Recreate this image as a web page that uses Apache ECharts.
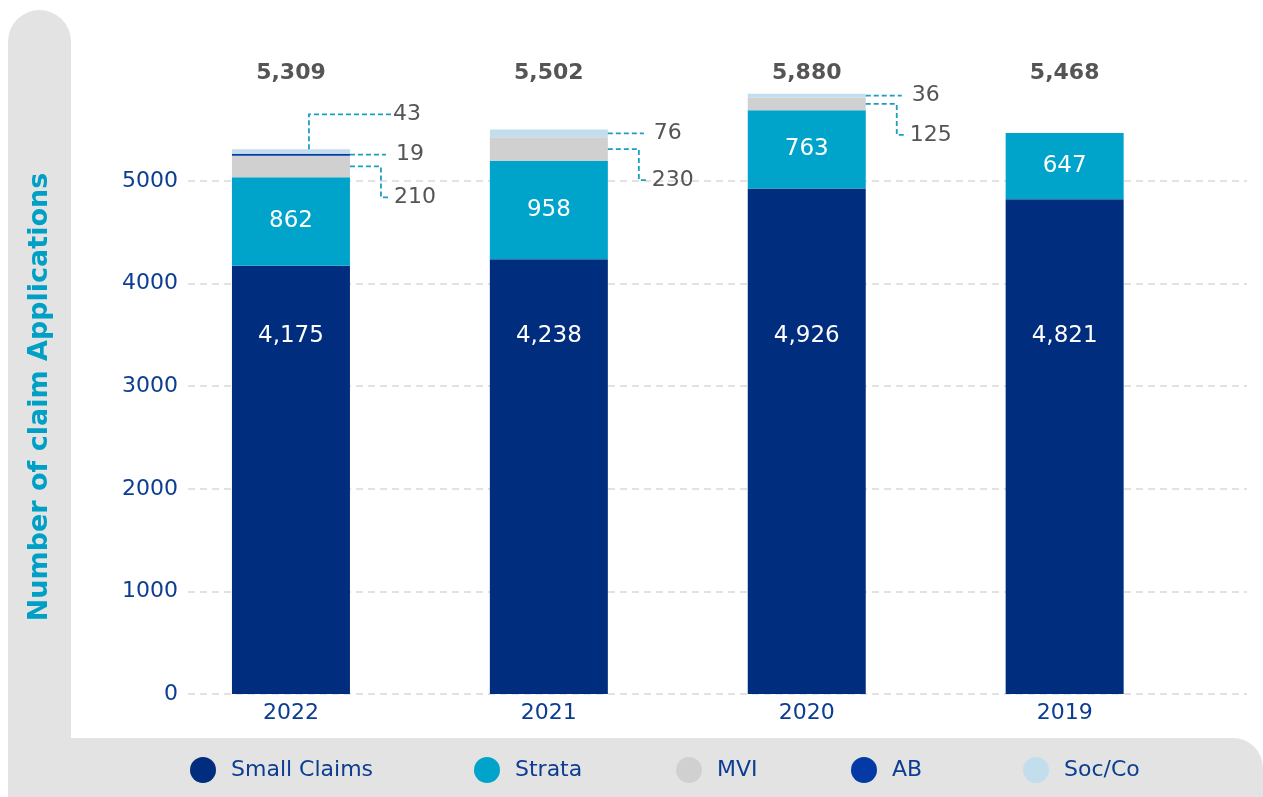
<!DOCTYPE html>
<html>
<head>
<meta charset="utf-8">
<script src="https://cdn.jsdelivr.net/npm/echarts@6.0.0/dist/echarts.min.js"></script>
<style>
html,body{margin:0;padding:0;background:#fff;}
#chart{width:1263px;height:797px;}
</style>
</head>
<body>
<div id="chart"></div>
<script>
// ---------------- data ----------------
var categories = ['2022', '2021', '2020', '2019'];
var smallClaims = [4175, 4238, 4926, 4821];
var strata      = [862, 958, 763, 647];
var mvi         = [210, 230, 125, 0];
var ab          = [19, 0, 0, 0];
var socCo       = [43, 76, 36, 0];
var totals      = [5309, 5502, 5880, 5468];
var yTicks      = [0, 1000, 2000, 3000, 4000, 5000];
// callouts: [category index, series name, leader style]
var callouts = [
  [0, 'Soc/Co', 'up'],
  [0, 'AB', 'straight'],
  [0, 'MVI', 'bent'],
  [1, 'Soc/Co', 'straight'],
  [1, 'MVI', 'bent'],
  [2, 'Soc/Co', 'straight'],
  [2, 'MVI', 'bent']
];
// value levels where the fixed-row labels sit
var TOTAL_LEVEL = 6053;
var SMALL_LABEL_LEVEL = 3490;

// ---------------- styles ----------------
var FONT = 'DejaVu Sans';
var C_SMALL = '#002d7d', C_STRATA = '#00a3c9', C_MVI = '#d0d0d0', C_AB = '#0539a6', C_SOC = '#c2ddeb';
var C_TEXTBLUE = '#0c3d91';
var BAR_W = 118;

var seriesOrder = ['Small Claims', 'Strata', 'MVI', 'AB', 'Soc/Co'];
var seriesVals = [smallClaims, strata, mvi, ab, socCo];
function segBounds(cat, name) {
  var k = seriesOrder.indexOf(name), b = 0;
  for (var j = 0; j < k; j++) b += seriesVals[j][cat];
  return [b, b + seriesVals[k][cat]];
}
var calloutData = callouts.map(function (c) {
  var s = segBounds(c[0], c[1]);
  var k = seriesOrder.indexOf(c[1]);
  var kind = c[2] === 'up' ? 0 : (c[2] === 'straight' ? 1 : 2);
  return [c[0], s[0], s[1], seriesVals[k][c[0]], kind];
});
function fmt(v) { return v.toLocaleString('en-US'); }

var chart = echarts.init(document.getElementById('chart'), null, {renderer: 'canvas'});

function legendFor(name, left) {
  return {
    data: [name], left: left, top: 757, padding: 0,
    icon: 'circle', itemWidth: 26, itemHeight: 26,
    selectedMode: false,
    textStyle: {fontFamily: FONT, fontSize: 22, color: C_TEXTBLUE, padding: [0, 0, 0, 10]}
  };
}

function barSeries(name, data, color, labelOn) {
  return {
    name: name, type: 'bar', stack: 'all', data: data,
    xAxisIndex: 0, yAxisIndex: 0,
    barWidth: BAR_W,
    itemStyle: {color: color},
    label: labelOn ? {
      show: true, position: 'inside', color: '#fff',
      fontFamily: FONT, fontSize: 23,
      formatter: function (p) { return fmt(p.value); }
    } : {show: false},
    emphasis: {disabled: true},
    animation: false
  };
}

var option = {
  animation: false,
  backgroundColor: '#ffffff',
  graphic: [
    {type: 'rect', z: -5, shape: {x: 8, y: 10, width: 63, height: 800, r: [31.5, 31.5, 0, 0]}, style: {fill: '#e3e3e3'}},
    {type: 'rect', z: -5, shape: {x: 8, y: 738, width: 1255, height: 70, r: [0, 30, 0, 0]}, style: {fill: '#e3e3e3'}},
    {type: 'text', x: 40, y: 397, rotation: Math.PI / 2,
      style: {text: 'Number of claim Applications', fill: '#00a0c6', font: 'bold 27px "' + FONT + '"',
        align: 'center', verticalAlign: 'middle'}}
  ],
  legend: [
    legendFor('Small Claims', 190),
    legendFor('Strata', 474),
    legendFor('MVI', 676),
    legendFor('AB', 851),
    legendFor('Soc/Co', 1023)
  ],
  grid: [
    {left: 162, right: 69.4, top: 78.4, bottom: 103},
    {left: 188, right: 16, top: 181, bottom: 103}
  ],
  xAxis: [
    {type: 'category', gridIndex: 0, data: categories,
      axisLine: {show: false}, axisTick: {show: false},
      axisLabel: {color: C_TEXTBLUE, fontFamily: FONT, fontSize: 22, margin: 8}},
    {type: 'value', gridIndex: 1, show: false, min: 0, max: 1}
  ],
  yAxis: [
    {type: 'value', gridIndex: 0, min: 0, max: 6000, show: false, splitLine: {show: false}},
    {type: 'value', gridIndex: 1, min: yTicks[0], max: yTicks[yTicks.length - 1], interval: 1000,
      axisLine: {show: false}, axisTick: {show: false},
      axisLabel: {color: C_TEXTBLUE, fontFamily: FONT, fontSize: 22, margin: 10,
        formatter: function (v) { return String(v); }},
      splitLine: {show: true, lineStyle: {color: '#d9d9d9', width: 1.5, type: [7, 5]}}}
  ],
  series: [
    barSeries('Small Claims', smallClaims, C_SMALL, false),
    barSeries('Strata', strata, C_STRATA, true),
    barSeries('MVI', mvi, C_MVI, false),
    barSeries('AB', ab, C_AB, false),
    barSeries('Soc/Co', socCo, C_SOC, false),
    {
      type: 'scatter', xAxisIndex: 0, yAxisIndex: 0, symbolSize: 0, clip: false, silent: true,
      itemStyle: {opacity: 1},
      data: smallClaims.map(function (v, i) { return [i, SMALL_LABEL_LEVEL, v]; }),
      label: {show: true, position: 'inside', color: '#ffffff', fontFamily: FONT, fontSize: 23,
        formatter: function (p) { return fmt(p.value[2]); }},
      z: 5
    },
    {
      type: 'scatter', xAxisIndex: 0, yAxisIndex: 0, symbolSize: 0, clip: false, silent: true,
      itemStyle: {opacity: 1},
      data: totals.map(function (v, i) { return [i, TOTAL_LEVEL, v]; }),
      label: {show: true, position: 'inside', color: '#555555', fontFamily: FONT, fontSize: 22, fontWeight: 'bold',
        formatter: function (p) { return fmt(p.value[2]); }},
      z: 5
    },
    {
      type: 'custom', xAxisIndex: 0, yAxisIndex: 0, clip: false, silent: true, z: 6,
      data: calloutData,
      encode: {x: 0, y: 2},
      renderItem: function (params, api) {
        var cat = api.value(0), b = api.value(1), t = api.value(2), val = api.value(3), kind = api.value(4);
        var cx = api.coord([cat, 0])[0];
        var right = cx + BAR_W / 2;
        var yMid = api.coord([cat, (b + t) / 2])[1];
        var yTop = api.coord([cat, t])[1];
        var pts, tx, ty;
        if (kind === 0) {
          ty = yTop - 35;
          pts = [[cx + 18, yTop], [cx + 18, ty], [right + 41, ty]];
          tx = right + 43;
        } else if (kind === 1) {
          ty = yMid;
          pts = [[right, yMid], [right + 36, yMid]];
          tx = right + 46;
        } else {
          ty = yMid + 31;
          pts = [[right, yMid], [right + 31, yMid], [right + 31, ty], [right + 40, ty]];
          tx = right + 44;
        }
        return {
          type: 'group',
          children: [
            {type: 'polyline', shape: {points: pts},
              style: {stroke: '#1a9fc2', lineWidth: 1.8, lineDash: [5, 3], fill: null}},
            {type: 'text', x: tx, y: ty,
              style: {text: fmt(val), fill: '#555555', font: '22px "' + FONT + '"',
                align: 'left', verticalAlign: 'middle'}}
          ]
        };
      }
    }
  ]
};
chart.setOption(option);
</script>
</body>
</html>
